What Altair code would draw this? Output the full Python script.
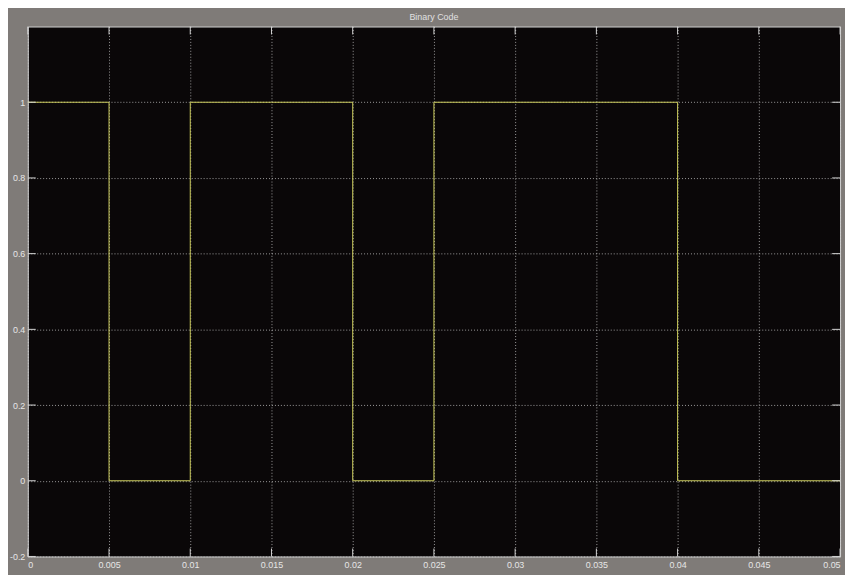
import altair as alt
import pandas as pd

# Signal: binary code, held (step) over time
t = [0, 0.005, 0.01, 0.015, 0.02, 0.025, 0.03, 0.035, 0.04, 0.045, 0.05]
bits = [1, 0, 1, 1, 0, 1, 1, 1, 0, 0, 0]

x_ticks = [0, 0.005, 0.01, 0.015, 0.02, 0.025, 0.03, 0.035, 0.04, 0.045, 0.05]
y_ticks = [-0.2, 0, 0.2, 0.4, 0.6, 0.8, 1]

W, H = 820, 535

sig = pd.DataFrame({"t": t, "v": bits})
xt = pd.DataFrame({"x": x_ticks})
yt = pd.DataFrame({"y": y_ticks})

xscale = alt.Scale(domain=[0, 0.05], nice=False, zero=False)
yscale = alt.Scale(domain=[-0.2, 1.2], nice=False, zero=False)

grid_common = dict(
    grid=True, gridColor="#d0d0d0", gridDash=[1, 2], gridOpacity=0.75, gridWidth=1,
    ticks=False, domain=False, labelColor="#e6e6e6", labelFont="Liberation Sans",
    labelFontSize=9, title=None, labelExpr="'' + datum.value",
)

xaxis = alt.Axis(values=x_ticks, labelPadding=4, labelFlush=False,
                 labelAlign=alt.expr("datum.index == 0 ? 'left' : datum.index == 1 ? 'right' : 'center'"),
                 **grid_common)
yaxis = alt.Axis(values=y_ticks, labelPadding=3, **grid_common)

line = alt.Chart(sig).mark_line(interpolate="step-after", color="#cccc5c", strokeWidth=1).encode(
    x=alt.X("t:Q", scale=xscale, axis=xaxis),
    y=alt.Y("v:Q", scale=yscale, axis=yaxis),
)

tick_col = "#d4d4d4"
xb = alt.Chart(xt).mark_rule(color=tick_col, strokeWidth=1).encode(
    x=alt.X("x:Q", scale=xscale), y=alt.value(H), y2=alt.value(H - 8))
xtop = alt.Chart(xt).mark_rule(color=tick_col, strokeWidth=1).encode(
    x=alt.X("x:Q", scale=xscale), y=alt.value(0), y2=alt.value(8))
yl = alt.Chart(yt).mark_rule(color=tick_col, strokeWidth=1).encode(
    y=alt.Y("y:Q", scale=yscale), x=alt.value(0), x2=alt.value(8))
yr = alt.Chart(yt).mark_rule(color=tick_col, strokeWidth=1).encode(
    y=alt.Y("y:Q", scale=yscale), x=alt.value(W), x2=alt.value(W - 8))

chart = alt.layer(line, xb, xtop, yl, yr).properties(
    width=W, height=H,
    title=alt.TitleParams("Binary Code", fontSize=9, color="#e0e0e0", font="Liberation Sans",
                          fontWeight="normal", anchor="middle", offset=4),
    background="#7f7b78",
    padding={"left": 20, "top": 16, "right": 5, "bottom": 16},
    autosize=alt.AutoSizeParams(type="none"),
).configure_view(fill="#0a0708", stroke="#cfcfcf", strokeWidth=1)

chart.save("out.html", embed_options={"renderer": "svg", "actions": False})
